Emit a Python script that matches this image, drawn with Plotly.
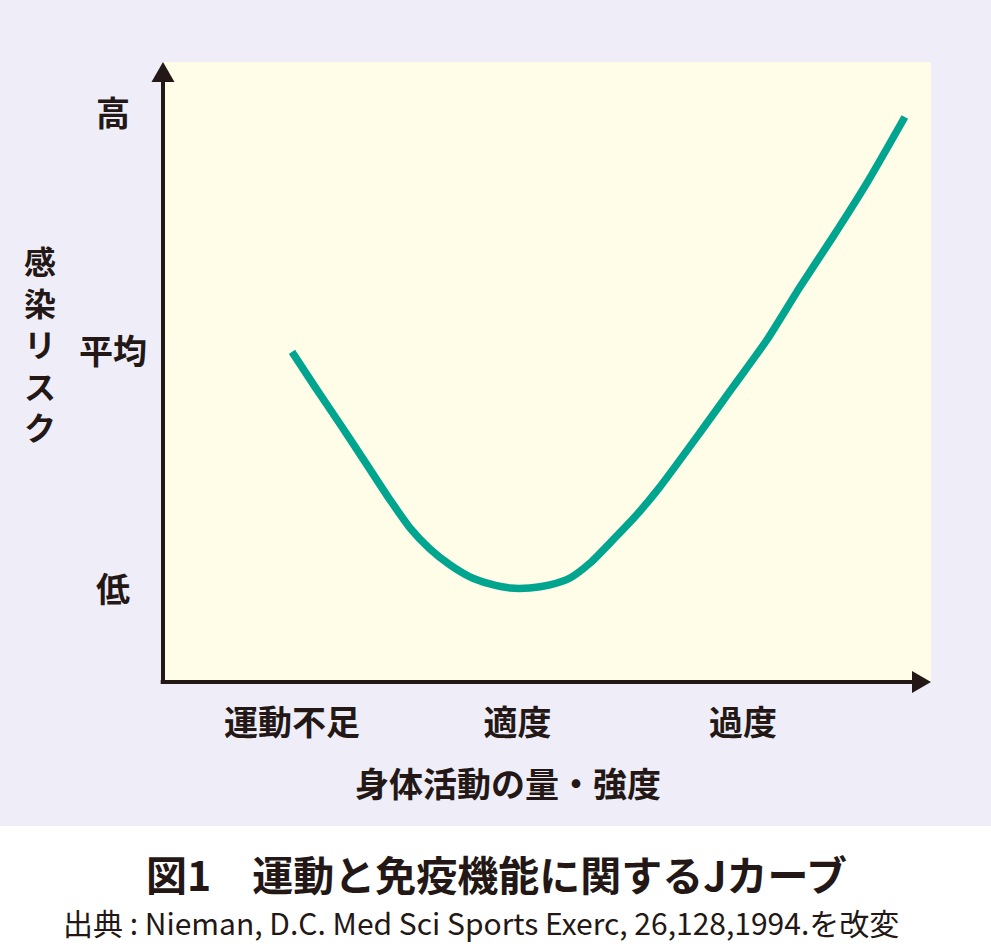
import plotly.graph_objects as go

# ---- data ----
x_categories = ["運動不足", "適度", "過度"]
x_category_pos = [1, 2, 3]
y_levels = ["低", "平均", "高"]
y_level_pos = [0, 1, 2]

activity = [1.000, 1.102, 1.213, 1.324, 1.435, 1.523, 1.612, 1.701, 1.789, 1.878,
            1.967, 2.055, 2.144, 2.233, 2.322, 2.410, 2.521, 2.632, 2.809, 2.956,
            3.106, 3.253, 3.399, 3.550, 3.718]
risk = [1.000, 0.853, 0.697, 0.538, 0.378, 0.261, 0.172, 0.105, 0.055, 0.025,
        0.008, 0.008, 0.021, 0.050, 0.113, 0.197, 0.307, 0.433, 0.660, 0.853,
        1.050, 1.273, 1.483, 1.710, 1.987]

title_text = "図1　運動と免疫機能に関するJカーブ"
source_text = "出典 : Nieman, D.C. Med Sci Sports Exerc, 26,128,1994.を改変"
x_title = "身体活動の量・強度"
y_title = "感染リスク"

# ---- styles ----
INK = "#231815"
TEAL = "#00a590"
LAVENDER = "#efeef8"
CREAM = "#fffde7"
FONT = "Noto Sans CJK JP"

fig = go.Figure()
fig.add_trace(go.Scatter(
    x=activity, y=risk, mode="lines",
    line=dict(color=TEAL, width=7.5, shape="spline", smoothing=0.6),
    hoverinfo="skip", showlegend=False,
))

# y tick labels: pad 高/低 so they look centred with 平均
ytext = []
for t in y_levels:
    ytext.append(t + "\u2002" if len(t) == 1 else t)

fig.update_layout(
    width=991, height=944,
    margin=dict(l=163, r=60, t=62, b=262, pad=0),
    paper_bgcolor=LAVENDER,
    plot_bgcolor=CREAM,
    font=dict(family=FONT, color=INK),
    hovermode=False,
    xaxis=dict(
        range=[0.428, 3.834], showgrid=False, zeroline=False, showline=False,
        tickmode="array", tickvals=x_category_pos, ticktext=x_categories,
        tickfont=dict(family=FONT, size=34, color=INK, weight=700),
        ticks="", ticklabelstandoff=18, fixedrange=True,
    ),
    yaxis=dict(
        range=[-0.387, 2.218], showgrid=False, zeroline=False, showline=False,
        tickmode="array", tickvals=y_level_pos, ticktext=ytext,
        tickfont=dict(family=FONT, size=34, color=INK, weight=700),
        ticks="", ticklabelstandoff=15, fixedrange=True,
    ),
    shapes=[
        # white strip under the chart panel
        dict(type="rect", xref="paper", yref="paper", x0=-0.25, x1=1.2,
             y0=-(826 - 682) / 620, y1=-0.6, fillcolor="white", line=dict(width=0),
             layer="below"),
        # axes
        dict(type="line", xref="paper", yref="paper", x0=0, x1=0, y0=-0.003, y1=0.97,
             line=dict(color=INK, width=4)),
        dict(type="line", xref="paper", yref="paper", x0=-0.003, x1=0.977, y0=0, y1=0,
             line=dict(color=INK, width=4)),
        # arrow heads
        dict(type="path", xref="paper", yref="paper",
             path="M 0,1 L -0.01497,0.9677 L 0.01497,0.9677 Z",
             fillcolor=INK, line=dict(width=0)),
        dict(type="path", xref="paper", yref="paper",
             path="M 1,0 L 0.9753,0.01774 L 0.9753,-0.01774 Z",
             fillcolor=INK, line=dict(width=0)),
    ],
    annotations=[
        dict(text="<br>".join(list(y_title)), xref="paper", yref="paper",
             x=(40 - 163) / 768, y=(682 - 343) / 620, xanchor="center", yanchor="middle",
             showarrow=False, font=dict(family=FONT, size=32, color=INK, weight=700)),
        dict(text=x_title, xref="paper", yref="paper",
             x=(508 - 163) / 768, y=(682 - 782) / 620, xanchor="center", yanchor="middle",
             showarrow=False, font=dict(family=FONT, size=34, color=INK, weight=700)),
        dict(text=title_text, xref="paper", yref="paper",
             x=(496 - 163) / 768, y=(682 - 873) / 620, xanchor="center", yanchor="middle",
             showarrow=False, font=dict(family=FONT, size=41, color=INK, weight=700)),
        dict(text=source_text, xref="paper", yref="paper",
             x=(481 - 163) / 768, y=(682 - 922) / 620, xanchor="center", yanchor="middle",
             showarrow=False, borderpad=0, font=dict(family=FONT, size=30, color=INK)),
    ],
)

fig.write_html("out.html", config={"displayModeBar": False, "staticPlot": True})

# remove the browser's default page margin so the figure sits at (0, 0)
with open("out.html", "r", encoding="utf-8") as f:
    html = f.read()
html = html.replace("<head>", "<head><style>html,body{margin:0;padding:0;overflow:hidden;}</style>", 1)
with open("out.html", "w", encoding="utf-8") as f:
    f.write(html)
